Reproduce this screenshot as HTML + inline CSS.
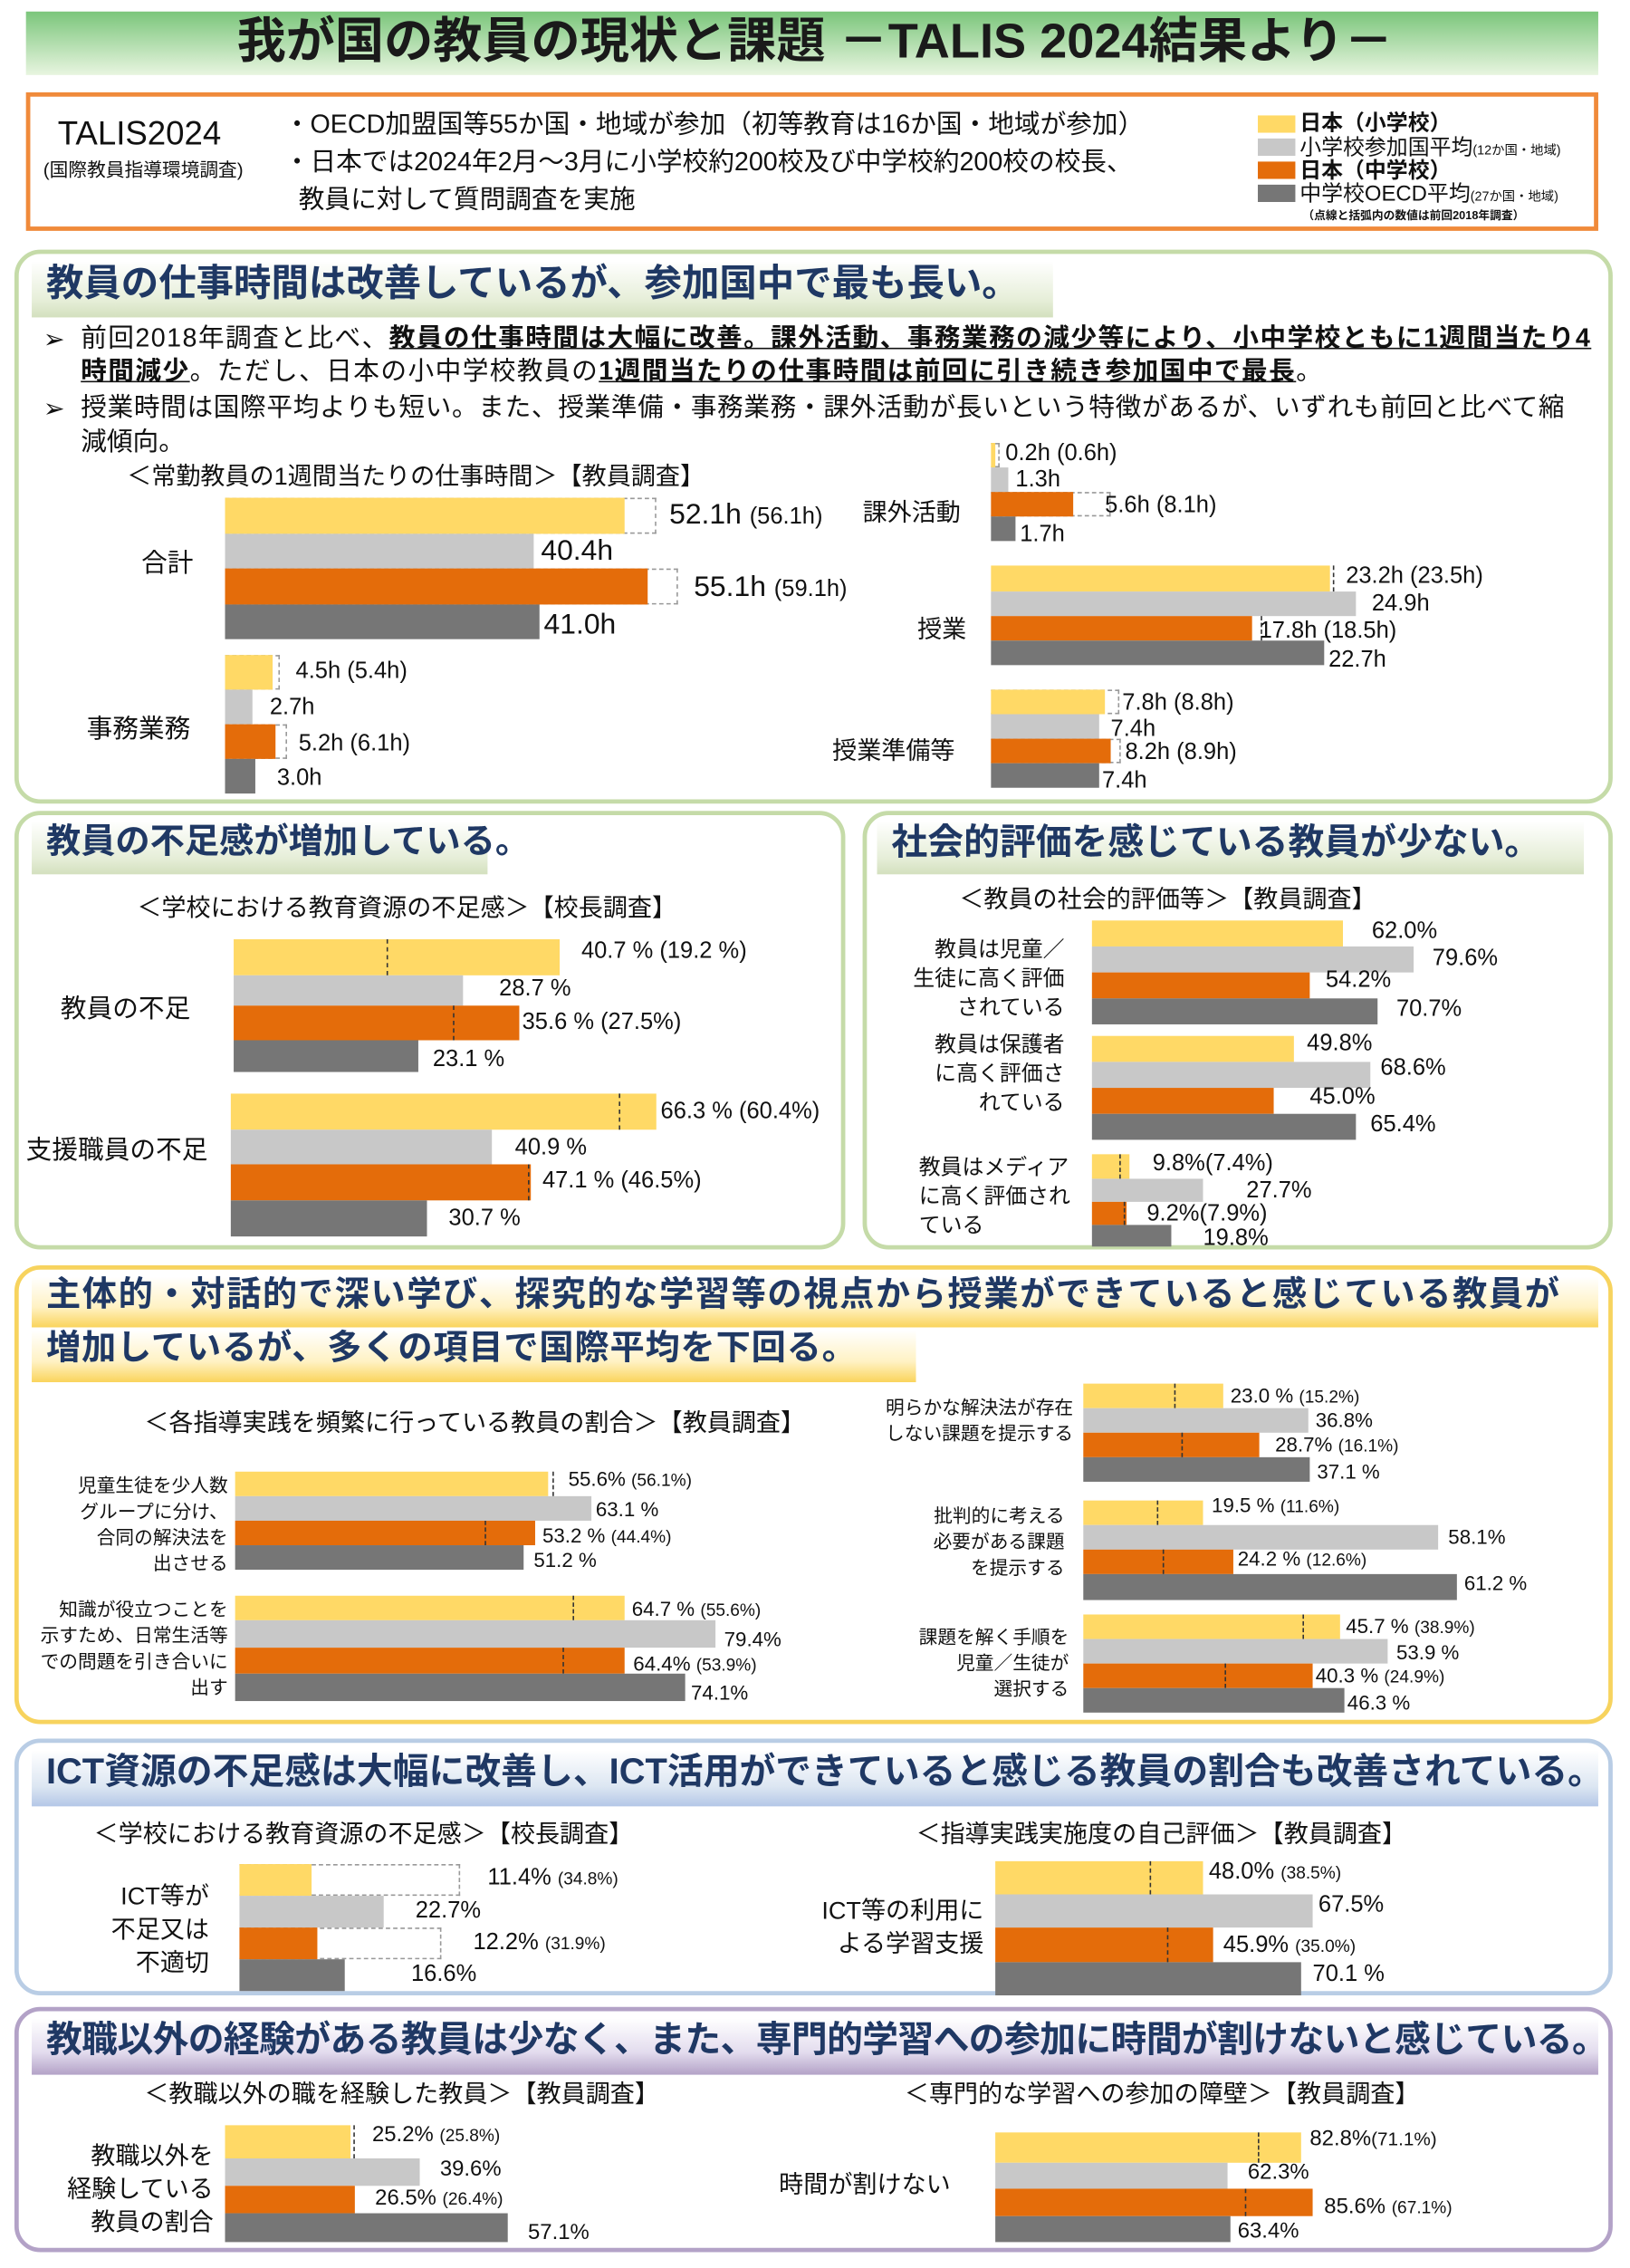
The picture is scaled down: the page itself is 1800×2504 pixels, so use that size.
<!DOCTYPE html>
<html><head><meta charset="utf-8">
<style>
html,body{margin:0;padding:0;background:#fff;}
body{width:1800px;height:2504px;overflow:hidden;position:relative;}
#w{position:absolute;left:0;top:0;width:1130px;height:1572px;transform:scale(1.59292);transform-origin:0 0;font-family:"Liberation Sans","Noto Sans CJK JP",sans-serif;color:#111;}
#w div{position:absolute;}
.t{white-space:nowrap;line-height:1;}
.y{background:#FFD966}.g{background:#C8C8C8}.o{background:#E46C0A}.d{background:#767676}
.dot{border:1px dashed #999;border-left:none;box-sizing:border-box;}
.dl{border-left:1px dashed #333;width:0;}
.box{border:3px solid #C5DBA8;border-radius:18px;box-sizing:border-box;}
.h{font-weight:bold;color:#1F3864;white-space:nowrap;line-height:1;}
.r{text-align:right;}
.s{font-size:12px}
</style></head><body><div id="w">

<!-- title -->
<div style="left:18px;top:8px;width:1090px;height:44px;background:linear-gradient(#7BC67B,#E8F5E0);"></div>
<div class="t" style="left:0;top:12px;width:1130px;text-align:center;font-size:34px;font-weight:bold;color:#1a1a1a;">我が国の教員の現状と課題 －TALIS 2024結果より－</div>

<!-- info box -->
<div style="left:18px;top:64px;width:1090px;height:96px;border:3px solid #F08A3A;box-sizing:border-box;"></div>
<div class="t" style="left:40px;top:81px;font-size:23px;">TALIS2024</div>
<div class="t" style="left:30px;top:111px;font-size:13px;">(国際教員指導環境調査)</div>
<div class="t" style="left:197px;top:77px;font-size:18px;">・OECD加盟国等55か国・地域が参加（初等教育は16か国・地域が参加）</div>
<div class="t" style="left:197px;top:103px;font-size:18px;">・日本では2024年2月～3月に小学校約200校及び中学校約200校の校長、</div>
<div class="t" style="left:207px;top:129px;font-size:18px;">教員に対して質問調査を実施</div>
<div class="y" style="left:872px;top:80px;width:26px;height:12px;"></div>
<div class="g" style="left:872px;top:96px;width:26px;height:12px;"></div>
<div class="o" style="left:872px;top:112px;width:26px;height:12px;"></div>
<div class="d" style="left:872px;top:128px;width:26px;height:12px;"></div>
<div class="t" style="left:901px;top:78px;font-size:15px;font-weight:bold;">日本（小学校）</div>
<div class="t" style="left:901px;top:95px;font-size:15px;">小学校参加国平均<span style="font-size:9px">(12か国・地域)</span></div>
<div class="t" style="left:901px;top:111px;font-size:15px;font-weight:bold;">日本（中学校）</div>
<div class="t" style="left:901px;top:127px;font-size:15px;">中学校OECD平均<span style="font-size:9px">(27か国・地域)</span></div>
<div class="t" style="left:903px;top:146px;font-size:8px;font-weight:bold;">（点線と括弧内の数値は前回2018年調査）</div>

<!-- section 1 -->
<div class="box" style="left:10px;top:173px;width:1108px;height:384px;"></div>
<div style="left:22px;top:181px;width:708px;height:39px;background:linear-gradient(#fff,#E6EED8 70%,#D3E0BE);"></div>
<div class="h" style="left:32px;top:183px;font-size:26px;">教員の仕事時間は改善しているが、参加国中で最も長い。</div>
<div class="t" style="left:30px;top:226px;font-size:18px;">➢</div>
<div class="t" style="left:56px;top:225px;font-size:18px;letter-spacing:0.9px;">前回2018年調査と比べ、<b><u>教員の仕事時間は大幅に改善。課外活動、事務業務の減少等により、小中学校ともに1週間当たり4</u></b></div>
<div class="t" style="left:56px;top:248px;font-size:18px;letter-spacing:0.9px;"><b><u>時間減少</u></b>。ただし、日本の小中学校教員の<b><u>1週間当たりの仕事時間は前回に引き続き参加国中で最長</u></b>。</div>
<div class="t" style="left:30px;top:274px;font-size:18px;">➢</div>
<div class="t" style="left:56px;top:273px;font-size:18px;letter-spacing:0.4px;">授業時間は国際平均よりも短い。また、授業準備・事務業務・課外活動が長いという特徴があるが、いずれも前回と比べて縮</div>
<div class="t" style="left:56px;top:297px;font-size:18px;">減傾向。</div>

<div class="t" style="left:88px;top:322px;font-size:17px;">＜常勤教員の1週間当たりの仕事時間＞【教員調査】</div>
<div class="t" style="left:98px;top:381px;font-size:18px;">合計</div>
<div class="dot" style="left:156px;top:345px;width:299px;height:25px;"></div>
<div class="y" style="left:156px;top:345px;width:277px;height:25px;"></div>
<div class="g" style="left:156px;top:370px;width:214px;height:24px;"></div>
<div class="dot" style="left:156px;top:394px;width:314px;height:25px;"></div>
<div class="o" style="left:156px;top:394px;width:293px;height:25px;"></div>
<div class="d" style="left:156px;top:419px;width:218px;height:24px;"></div>
<div class="t" style="left:464px;top:347px;font-size:20px;">52.1h <span style="font-size:16px">(56.1h)</span></div>
<div class="t" style="left:375px;top:372px;font-size:20px;">40.4h</div>
<div class="t" style="left:481px;top:397px;font-size:20px;">55.1h <span style="font-size:16px">(59.1h)</span></div>
<div class="t" style="left:377px;top:423px;font-size:20px;">41.0h</div>

<div class="t" style="left:60px;top:496px;font-size:18px;">事務業務</div>
<div class="dot" style="left:156px;top:454px;width:38px;height:24px;"></div>
<div class="y" style="left:156px;top:454px;width:33px;height:24px;"></div>
<div class="g" style="left:156px;top:478px;width:19px;height:24px;"></div>
<div class="dot" style="left:156px;top:502px;width:43px;height:24px;"></div>
<div class="o" style="left:156px;top:502px;width:35px;height:24px;"></div>
<div class="d" style="left:156px;top:526px;width:21px;height:24px;"></div>
<div class="t" style="left:205px;top:458px;font-size:16px;">4.5h (5.4h)</div>
<div class="t" style="left:187px;top:483px;font-size:16px;">2.7h</div>
<div class="t" style="left:207px;top:508px;font-size:16px;">5.2h (6.1h)</div>
<div class="t" style="left:192px;top:532px;font-size:16px;">3.0h</div>

<div class="t" style="left:598px;top:347px;font-size:17px;">課外活動</div>
<div class="dot" style="left:687px;top:307px;width:6px;height:17px;"></div>
<div class="y" style="left:687px;top:307px;width:3px;height:17px;"></div>
<div class="g" style="left:687px;top:324px;width:12px;height:17px;"></div>
<div class="dot" style="left:687px;top:341px;width:83px;height:17px;"></div>
<div class="o" style="left:687px;top:341px;width:57px;height:17px;"></div>
<div class="d" style="left:687px;top:358px;width:17px;height:17px;"></div>
<div class="t" style="left:697px;top:307px;font-size:16px;">0.2h (0.6h)</div>
<div class="t" style="left:704px;top:325px;font-size:16px;">1.3h</div>
<div class="t" style="left:766px;top:343px;font-size:16px;">5.6h (8.1h)</div>
<div class="t" style="left:707px;top:363px;font-size:16px;">1.7h</div>

<div class="t" style="left:636px;top:428px;font-size:17px;">授業</div>
<div class="y" style="left:687px;top:392px;width:235px;height:18px;"></div>
<div class="dl" style="left:924px;top:392px;height:18px;"></div>
<div class="g" style="left:687px;top:410px;width:253px;height:17px;"></div>
<div class="o" style="left:687px;top:427px;width:181px;height:17px;"></div>
<div class="dl" style="left:874px;top:427px;height:17px;"></div>
<div class="d" style="left:687px;top:444px;width:231px;height:17px;"></div>
<div class="t" style="left:933px;top:392px;font-size:16px;">23.2h (23.5h)</div>
<div class="t" style="left:951px;top:411px;font-size:16px;">24.9h</div>
<div class="t" style="left:873px;top:430px;font-size:16px;">17.8h (18.5h)</div>
<div class="t" style="left:921px;top:450px;font-size:16px;">22.7h</div>

<div class="t" style="left:577px;top:512px;font-size:17px;">授業準備等</div>
<div class="dot" style="left:687px;top:478px;width:89px;height:17px;"></div>
<div class="y" style="left:687px;top:478px;width:79px;height:17px;"></div>
<div class="g" style="left:687px;top:495px;width:75px;height:17px;"></div>
<div class="dot" style="left:687px;top:512px;width:90px;height:17px;"></div>
<div class="o" style="left:687px;top:512px;width:83px;height:17px;"></div>
<div class="d" style="left:687px;top:529px;width:75px;height:17px;"></div>
<div class="t" style="left:778px;top:480px;font-size:16px;">7.8h (8.8h)</div>
<div class="t" style="left:770px;top:498px;font-size:16px;">7.4h</div>
<div class="t" style="left:780px;top:514px;font-size:16px;">8.2h (8.9h)</div>
<div class="t" style="left:764px;top:534px;font-size:16px;">7.4h</div>

<!-- section 2 left -->
<div class="box" style="left:10px;top:562px;width:576px;height:304px;"></div>
<div style="left:22px;top:569px;width:316px;height:37px;background:linear-gradient(#fff,#E6EED8 70%,#D3E0BE);"></div>
<div class="h" style="left:32px;top:572px;font-size:24px;">教員の不足感が増加している。</div>
<div class="t" style="left:95px;top:621px;font-size:17px;">＜学校における教育資源の不足感＞【校長調査】</div>
<div class="t" style="left:42px;top:690px;font-size:18px;">教員の不足</div>
<div class="y" style="left:162px;top:651px;width:226px;height:25px;"></div>
<div class="dl" style="left:268px;top:651px;height:25px;"></div>
<div class="g" style="left:162px;top:676px;width:159px;height:21px;"></div>
<div class="o" style="left:162px;top:697px;width:198px;height:24px;"></div>
<div class="dl" style="left:314px;top:697px;height:24px;"></div>
<div class="d" style="left:162px;top:721px;width:128px;height:22px;"></div>
<div class="t" style="left:403px;top:652px;font-size:16px;">40.7 % (19.2 %)</div>
<div class="t" style="left:346px;top:678px;font-size:16px;">28.7 %</div>
<div class="t" style="left:362px;top:701px;font-size:16px;">35.6 % (27.5%)</div>
<div class="t" style="left:300px;top:727px;font-size:16px;">23.1 %</div>
<div class="t" style="left:18px;top:788px;font-size:18px;">支援職員の不足</div>
<div class="y" style="left:160px;top:758px;width:295px;height:25px;"></div>
<div class="dl" style="left:429px;top:758px;height:25px;"></div>
<div class="g" style="left:160px;top:783px;width:181px;height:24px;"></div>
<div class="o" style="left:160px;top:807px;width:208px;height:25px;"></div>
<div class="dl" style="left:366px;top:807px;height:25px;"></div>
<div class="d" style="left:160px;top:832px;width:136px;height:25px;"></div>
<div class="t" style="left:458px;top:763px;font-size:16px;">66.3 % (60.4%)</div>
<div class="t" style="left:357px;top:788px;font-size:16px;">40.9 %</div>
<div class="t" style="left:376px;top:811px;font-size:16px;">47.1 % (46.5%)</div>
<div class="t" style="left:311px;top:837px;font-size:16px;">30.7 %</div>

<!-- section 2 right -->
<div class="box" style="left:598px;top:562px;width:520px;height:304px;"></div>
<div style="left:608px;top:569px;width:490px;height:37px;background:linear-gradient(#fff,#E6EED8 70%,#D3E0BE);"></div>
<div class="h" style="left:618px;top:572px;font-size:25px;">社会的評価を感じている教員が少ない。</div>
<div class="t" style="left:665px;top:615px;font-size:17px;">＜教員の社会的評価等＞【教員調査】</div>
<div class="t r" style="left:600px;top:649px;width:138px;font-size:15px;line-height:20px;">教員は児童／<br>生徒に高く評価<br>されている</div>
<div class="y" style="left:757px;top:638px;width:174px;height:18px;"></div>
<div class="g" style="left:757px;top:656px;width:223px;height:18px;"></div>
<div class="o" style="left:757px;top:674px;width:151px;height:18px;"></div>
<div class="d" style="left:757px;top:692px;width:198px;height:18px;"></div>
<div class="t" style="left:951px;top:638px;font-size:16px;">62.0%</div>
<div class="t" style="left:993px;top:657px;font-size:16px;">79.6%</div>
<div class="t" style="left:919px;top:672px;font-size:16px;">54.2%</div>
<div class="t" style="left:968px;top:692px;font-size:16px;">70.7%</div>
<div class="t r" style="left:600px;top:715px;width:138px;font-size:15px;line-height:20px;">教員は保護者<br>に高く評価さ<br>れている</div>
<div class="y" style="left:757px;top:718px;width:140px;height:18px;"></div>
<div class="g" style="left:757px;top:736px;width:193px;height:18px;"></div>
<div class="o" style="left:757px;top:754px;width:126px;height:18px;"></div>
<div class="d" style="left:757px;top:772px;width:183px;height:18px;"></div>
<div class="t" style="left:906px;top:716px;font-size:16px;">49.8%</div>
<div class="t" style="left:957px;top:733px;font-size:16px;">68.6%</div>
<div class="t" style="left:908px;top:753px;font-size:16px;">45.0%</div>
<div class="t" style="left:950px;top:772px;font-size:16px;">65.4%</div>
<div class="t" style="left:637px;top:800px;font-size:15px;line-height:20px;">教員はメディア<br>に高く評価され<br>ている</div>
<div class="y" style="left:757px;top:800px;width:26px;height:17px;"></div>
<div class="dl" style="left:776px;top:800px;height:17px;"></div>
<div class="g" style="left:757px;top:817px;width:77px;height:16px;"></div>
<div class="o" style="left:757px;top:833px;width:24px;height:16px;"></div>
<div class="dl" style="left:779px;top:833px;height:16px;"></div>
<div class="d" style="left:757px;top:849px;width:55px;height:15px;"></div>
<div class="t" style="left:799px;top:799px;font-size:16px;">9.8%(7.4%)</div>
<div class="t" style="left:864px;top:818px;font-size:16px;">27.7%</div>
<div class="t" style="left:795px;top:834px;font-size:16px;">9.2%(7.9%)</div>
<div class="t" style="left:834px;top:851px;font-size:16px;">19.8%</div>

<!-- section 3 -->
<div class="box" style="left:10px;top:877px;width:1108px;height:318px;border-color:#F7D35E;"></div>
<div style="left:22px;top:885px;width:1086px;height:35px;background:linear-gradient(#fff,#FFF2C4 60%,#FAD45C);"></div>
<div style="left:22px;top:922px;width:613px;height:36px;background:linear-gradient(#fff,#FFF2C4 60%,#FAD45C);"></div>
<div class="h" style="left:32px;top:886px;font-size:24px;letter-spacing:1px;">主体的・対話的で深い学び、探究的な学習等の視点から授業ができていると感じている教員が</div>
<div class="h" style="left:32px;top:923px;font-size:24px;letter-spacing:0.5px;">増加しているが、多くの項目で国際平均を下回る。</div>
<div class="t" style="left:100px;top:978px;font-size:17px;">＜各指導実践を頻繁に行っている教員の割合＞【教員調査】</div>

<div class="t r" style="left:0;top:1021px;width:158px;font-size:13px;line-height:18px;">児童生徒を少人数<br>グループに分け、<br>合同の解決法を<br>出させる</div>
<div class="y" style="left:163px;top:1020px;width:217px;height:17px;"></div>
<div class="dl" style="left:383px;top:1020px;height:17px;"></div>
<div class="g" style="left:163px;top:1037px;width:247px;height:17px;"></div>
<div class="o" style="left:163px;top:1054px;width:208px;height:17px;"></div>
<div class="dl" style="left:336px;top:1054px;height:17px;"></div>
<div class="d" style="left:163px;top:1071px;width:200px;height:17px;"></div>
<div class="t" style="left:394px;top:1018px;font-size:14px;">55.6% <span class="s">(56.1%)</span></div>
<div class="t" style="left:413px;top:1039px;font-size:14px;">63.1 %</div>
<div class="t" style="left:376px;top:1057px;font-size:14px;">53.2 % <span class="s">(44.4%)</span></div>
<div class="t" style="left:370px;top:1074px;font-size:14px;">51.2 %</div>

<div class="t r" style="left:0;top:1107px;width:158px;font-size:13px;line-height:18px;">知識が役立つことを<br>示すため、日常生活等<br>での問題を引き合いに<br>出す</div>
<div class="y" style="left:163px;top:1106px;width:270px;height:17px;"></div>
<div class="dl" style="left:397px;top:1106px;height:17px;"></div>
<div class="g" style="left:163px;top:1123px;width:333px;height:19px;"></div>
<div class="o" style="left:163px;top:1142px;width:270px;height:18px;"></div>
<div class="dl" style="left:390px;top:1142px;height:18px;"></div>
<div class="d" style="left:163px;top:1160px;width:312px;height:19px;"></div>
<div class="t" style="left:438px;top:1108px;font-size:14px;">64.7 % <span class="s">(55.6%)</span></div>
<div class="t" style="left:502px;top:1129px;font-size:14px;">79.4%</div>
<div class="t" style="left:439px;top:1146px;font-size:14px;">64.4% <span class="s">(53.9%)</span></div>
<div class="t" style="left:479px;top:1166px;font-size:14px;">74.1%</div>

<div class="t r" style="left:560px;top:967px;width:184px;font-size:13px;line-height:18px;">明らかな解決法が存在<br>しない課題を提示する</div>
<div class="y" style="left:751px;top:959px;width:97px;height:17px;"></div>
<div class="dl" style="left:814px;top:959px;height:17px;"></div>
<div class="g" style="left:751px;top:976px;width:156px;height:17px;"></div>
<div class="o" style="left:751px;top:993px;width:122px;height:17px;"></div>
<div class="dl" style="left:819px;top:993px;height:17px;"></div>
<div class="d" style="left:751px;top:1010px;width:157px;height:17px;"></div>
<div class="t" style="left:853px;top:960px;font-size:14px;">23.0 % <span class="s">(15.2%)</span></div>
<div class="t" style="left:912px;top:977px;font-size:14px;">36.8%</div>
<div class="t" style="left:884px;top:994px;font-size:14px;">28.7% <span class="s">(16.1%)</span></div>
<div class="t" style="left:913px;top:1013px;font-size:14px;">37.1 %</div>

<div class="t r" style="left:560px;top:1042px;width:178px;font-size:13px;line-height:18px;">批判的に考える<br>必要がある課題<br>を提示する</div>
<div class="y" style="left:751px;top:1040px;width:83px;height:17px;"></div>
<div class="dl" style="left:802px;top:1040px;height:17px;"></div>
<div class="g" style="left:751px;top:1057px;width:246px;height:17px;"></div>
<div class="o" style="left:751px;top:1074px;width:104px;height:17px;"></div>
<div class="dl" style="left:806px;top:1074px;height:17px;"></div>
<div class="d" style="left:751px;top:1091px;width:259px;height:18px;"></div>
<div class="t" style="left:840px;top:1036px;font-size:14px;">19.5 % <span class="s">(11.6%)</span></div>
<div class="t" style="left:1004px;top:1058px;font-size:14px;">58.1%</div>
<div class="t" style="left:858px;top:1073px;font-size:14px;">24.2 % <span class="s">(12.6%)</span></div>
<div class="t" style="left:1015px;top:1090px;font-size:14px;">61.2 %</div>

<div class="t r" style="left:560px;top:1126px;width:181px;font-size:13px;line-height:18px;">課題を解く手順を<br>児童／生徒が<br>選択する</div>
<div class="y" style="left:751px;top:1119px;width:178px;height:17px;"></div>
<div class="dl" style="left:903px;top:1119px;height:17px;"></div>
<div class="g" style="left:751px;top:1136px;width:211px;height:17px;"></div>
<div class="o" style="left:751px;top:1153px;width:159px;height:17px;"></div>
<div class="dl" style="left:849px;top:1153px;height:17px;"></div>
<div class="d" style="left:751px;top:1170px;width:181px;height:17px;"></div>
<div class="t" style="left:933px;top:1120px;font-size:14px;">45.7 % <span class="s">(38.9%)</span></div>
<div class="t" style="left:968px;top:1138px;font-size:14px;">53.9 %</div>
<div class="t" style="left:912px;top:1154px;font-size:14px;">40.3 % <span class="s">(24.9%)</span></div>
<div class="t" style="left:934px;top:1173px;font-size:14px;">46.3 %</div>

<!-- section 4 -->
<div class="box" style="left:10px;top:1205px;width:1108px;height:178px;border-color:#B9CDE5;"></div>
<div style="left:22px;top:1213px;width:1086px;height:39px;background:linear-gradient(#fff,#DCE6F2 65%,#B4C7E7);"></div>
<div class="h" style="left:32px;top:1216px;font-size:25px;letter-spacing:0px;">ICT資源の不足感は大幅に改善し、ICT活用ができていると感じる教員の割合も改善されている。</div>
<div class="t" style="left:65px;top:1263px;font-size:17px;">＜学校における教育資源の不足感＞【校長調査】</div>
<div class="t" style="left:635px;top:1263px;font-size:17px;">＜指導実践実施度の自己評価＞【教員調査】</div>
<div class="t r" style="left:40px;top:1303px;width:105px;font-size:17px;line-height:23px;">ICT等が<br>不足又は<br>不適切</div>
<div class="dot" style="left:166px;top:1292px;width:153px;height:22px;"></div>
<div class="y" style="left:166px;top:1292px;width:50px;height:22px;"></div>
<div class="g" style="left:166px;top:1314px;width:100px;height:22px;"></div>
<div class="dot" style="left:166px;top:1336px;width:140px;height:22px;"></div>
<div class="o" style="left:166px;top:1336px;width:54px;height:22px;"></div>
<div class="d" style="left:166px;top:1358px;width:73px;height:22px;"></div>
<div class="t" style="left:338px;top:1294px;font-size:16px;">11.4% <span class="s">(34.8%)</span></div>
<div class="t" style="left:288px;top:1317px;font-size:16px;">22.7%</div>
<div class="t" style="left:328px;top:1339px;font-size:16px;">12.2% <span class="s">(31.9%)</span></div>
<div class="t" style="left:285px;top:1361px;font-size:16px;">16.6%</div>

<div class="t r" style="left:540px;top:1313px;width:142px;font-size:17px;line-height:23px;">ICT等の利用に<br>よる学習支援</div>
<div class="y" style="left:690px;top:1290px;width:144px;height:23px;"></div>
<div class="dl" style="left:797px;top:1290px;height:23px;"></div>
<div class="g" style="left:690px;top:1313px;width:220px;height:23px;"></div>
<div class="o" style="left:690px;top:1336px;width:151px;height:24px;"></div>
<div class="dl" style="left:809px;top:1336px;height:24px;"></div>
<div class="d" style="left:690px;top:1360px;width:212px;height:23px;"></div>
<div class="t" style="left:838px;top:1290px;font-size:16px;">48.0% <span class="s">(38.5%)</span></div>
<div class="t" style="left:914px;top:1313px;font-size:16px;">67.5%</div>
<div class="t" style="left:848px;top:1341px;font-size:16px;">45.9% <span class="s">(35.0%)</span></div>
<div class="t" style="left:910px;top:1361px;font-size:16px;">70.1 %</div>

<!-- section 5 -->
<div class="box" style="left:10px;top:1391px;width:1108px;height:170px;border-color:#B3A2C7;"></div>
<div style="left:22px;top:1399px;width:1086px;height:39px;background:linear-gradient(#fff,#E3DCEE 60%,#B3A2C7);"></div>
<div class="h" style="left:32px;top:1402px;font-size:25px;letter-spacing:-0.4px;">教職以外の経験がある教員は少なく、また、専門的学習への参加に時間が割けないと感じている。</div>
<div class="t" style="left:100px;top:1443px;font-size:17px;">＜教職以外の職を経験した教員＞【教員調査】</div>
<div class="t" style="left:627px;top:1443px;font-size:17px;">＜専門的な学習への参加の障壁＞【教員調査】</div>
<div class="t r" style="left:20px;top:1483px;width:128px;font-size:17px;line-height:23px;">教職以外を<br>経験している<br>教員の割合</div>
<div class="y" style="left:156px;top:1473px;width:87px;height:23px;"></div>
<div class="dl" style="left:245px;top:1473px;height:23px;"></div>
<div class="g" style="left:156px;top:1496px;width:135px;height:19px;"></div>
<div class="o" style="left:156px;top:1515px;width:90px;height:19px;"></div>
<div class="d" style="left:156px;top:1534px;width:196px;height:20px;"></div>
<div class="t" style="left:258px;top:1472px;font-size:15px;">25.2% <span class="s">(25.8%)</span></div>
<div class="t" style="left:305px;top:1496px;font-size:15px;">39.6%</div>
<div class="t" style="left:260px;top:1516px;font-size:15px;">26.5% <span class="s">(26.4%)</span></div>
<div class="t" style="left:366px;top:1540px;font-size:15px;">57.1%</div>

<div class="t" style="left:540px;top:1506px;font-size:17px;">時間が割けない</div>
<div class="y" style="left:690px;top:1478px;width:212px;height:21px;"></div>
<div class="dl" style="left:872px;top:1478px;height:21px;"></div>
<div class="g" style="left:690px;top:1499px;width:161px;height:18px;"></div>
<div class="o" style="left:690px;top:1517px;width:220px;height:19px;"></div>
<div class="dl" style="left:863px;top:1517px;height:19px;"></div>
<div class="d" style="left:690px;top:1536px;width:163px;height:18px;"></div>
<div class="t" style="left:908px;top:1475px;font-size:15px;">82.8%<span style="font-size:13px">(71.1%)</span></div>
<div class="t" style="left:865px;top:1498px;font-size:15px;">62.3%</div>
<div class="t" style="left:918px;top:1522px;font-size:15px;">85.6% <span class="s">(67.1%)</span></div>
<div class="t" style="left:858px;top:1539px;font-size:15px;">63.4%</div>

</div></body></html>
